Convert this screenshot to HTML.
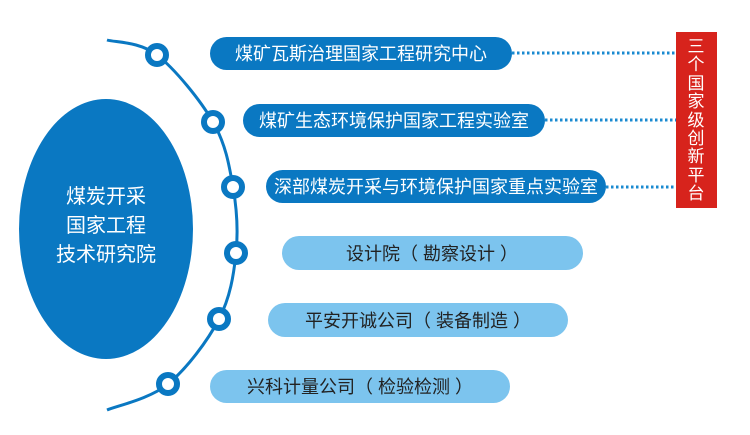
<!DOCTYPE html>
<html><head><meta charset="utf-8"><style>
body{margin:0;background:#fff;}
svg text{font-family:"Liberation Sans","Noto Sans CJK SC",sans-serif;}
</style></head><body>
<svg width="750" height="430" viewBox="0 0 750 430" xmlns="http://www.w3.org/2000/svg">
<ellipse cx="106" cy="229" rx="87" ry="130" fill="#0a78c2"/>
<text x="106" y="203" font-size="20" fill="#fff" text-anchor="middle">煤炭开采</text>
<text x="106" y="232" font-size="20" fill="#fff" text-anchor="middle">国家工程</text>
<text x="106" y="261" font-size="20" fill="#fff" text-anchor="middle">技术研究院</text>
<path d="M107,40 C115.3,42.5 139.3,41.3 157,55 C174.7,68.7 200.3,100 213,122 C225.7,144 229.2,165.2 233,187 C236.8,208.8 238.3,231 236,253 C233.7,275 230.3,297.2 219,319 C207.7,340.8 186.7,368.8 168,384 C149.3,399.2 117.2,405.7 107,410" fill="none" stroke="#0a78c2" stroke-width="3"/>
<g fill="#fff" stroke="#0a78c2" stroke-width="6">
<circle cx="157" cy="55" r="9"/><circle cx="213" cy="122" r="9"/><circle cx="233" cy="187" r="9"/>
<circle cx="236" cy="253" r="9"/><circle cx="219" cy="319" r="9"/><circle cx="168" cy="384" r="9"/>
</g>
<g stroke="#1a8ad0" stroke-width="3" stroke-dasharray="2.5,2.5">
<line x1="512" y1="53" x2="676" y2="53"/><line x1="545" y1="120" x2="676" y2="120"/><line x1="606" y1="187" x2="676" y2="187"/>
</g>
<rect x="676" y="32" width="41" height="176" fill="#d7231c"/>
<g font-size="17" fill="#fff" text-anchor="middle">
<text x="696" y="52">三</text><text x="696" y="70">个</text><text x="696" y="89">国</text><text x="696" y="107">家</text><text x="696" y="126">级</text><text x="696" y="144">创</text><text x="696" y="162">新</text><text x="696" y="181">平</text><text x="696" y="199">台</text>
</g>
<g fill="#0a78c2">
<rect x="210" y="37" width="302" height="33" rx="16.5"/>
<rect x="243" y="104" width="302" height="33" rx="16.5"/>
<rect x="266" y="170" width="340" height="33" rx="16.5"/>
</g>
<g fill="#7cc4ee">
<rect x="282" y="236" width="301" height="34" rx="17"/>
<rect x="268" y="303" width="300" height="34" rx="17"/>
<rect x="210" y="370" width="300" height="33" rx="16.5"/>
</g>
<g font-size="18" text-anchor="middle">
<text x="361" y="60" fill="#fff">煤矿瓦斯治理国家工程研究中心</text>
<text x="394" y="127" fill="#fff">煤矿生态环境保护国家工程实验室</text>
<text x="436" y="193" fill="#fff">深部煤炭开采与环境保护国家重点实验室</text>
<text x="432" y="260" fill="#222">设计院（ 勘察设计 ）</text>
<text x="418" y="327" fill="#222">平安开诚公司（ 装备制造 ）</text>
<text x="360" y="393" fill="#222">兴科计量公司（ 检验检测 ）</text>
</g>
</svg>
</body></html>
